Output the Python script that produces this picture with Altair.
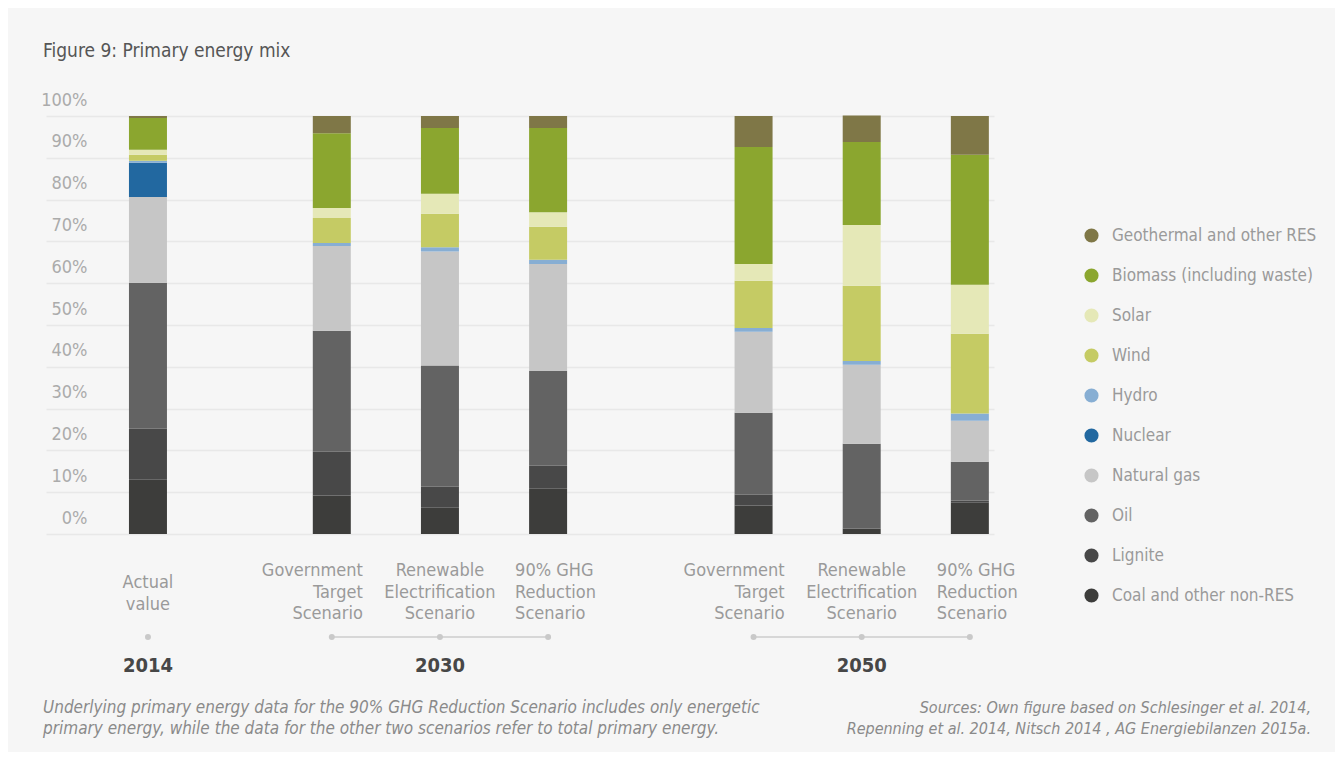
import altair as alt
import pandas as pd

# ---------------- data ----------------
bar_ids = ["2014-A", "2030-G", "2030-R", "2030-H", "2050-G", "2050-R", "2050-H"]
bar_year = ["2014", "2030", "2030", "2030", "2050", "2050", "2050"]
bar_labels = [
    "Actual\nvalue",
    "Government\nTarget\nScenario",
    "Renewable\nElectrification\nScenario",
    "90% GHG\nReduction\nScenario",
    "Government\nTarget\nScenario",
    "Renewable\nElectrification\nScenario",
    "90% GHG\nReduction\nScenario",
]
label_align = ["center", "right", "center", "left", "right", "center", "left"]
slot = [1, 2.7, 3.7, 4.7, 6.6, 7.6, 8.6]

# stack order: bottom -> top
sources = [
    "Coal and other non-RES",
    "Lignite",
    "Oil",
    "Natural gas",
    "Nuclear",
    "Hydro",
    "Wind",
    "Solar",
    "Biomass (including waste)",
    "Geothermal and other RES",
]
colors = ["#3d3d3b", "#484848", "#636363", "#c6c6c6", "#2268a0",
          "#87aed3", "#c5cb64", "#e5e8b7", "#8ba62f", "#7f7747"]

coal = [13.0, 9.2, 6.3, 10.8, 6.8, 1.3, 7.5]
lignite = [12.2, 10.5, 5.0, 5.5, 2.6, 0.0, 0.5]
oil = [34.9, 28.9, 29.0, 22.7, 19.6, 20.3, 9.3]
gas = [20.5, 20.3, 27.3, 25.6, 19.4, 18.9, 9.8]
nuclear = [8.2, 0.0, 0.0, 0.0, 0.0, 0.0, 0.0]
hydro = [0.5, 0.7, 1.0, 1.0, 0.9, 0.9, 1.7]
wind = [1.4, 6.0, 8.0, 7.9, 11.3, 18.0, 19.1]
solar = [1.2, 2.4, 4.8, 3.5, 4.0, 14.5, 11.7]
biomass = [7.6, 17.9, 15.7, 20.1, 28.0, 19.9, 31.1]
geothermal = [0.5, 4.1, 2.9, 2.9, 7.4, 6.3, 9.3]

y_ticks = [0, 10, 20, 30, 40, 50, 60, 70, 80, 90, 100]

title_text = "Figure 9: Primary energy mix"
note_left = ("Underlying primary energy data for the 90% GHG Reduction Scenario includes only energetic\n"
             "primary energy, while the data for the other two scenarios refer to total primary energy.")
note_right = ("Sources: Own figure based on Schlesinger et al. 2014,\n"
              "Repenning et al. 2014, Nitsch 2014 , AG Energiebilanzen 2015a.")

# ---------------- tables ----------------
series = [coal, lignite, oil, gas, nuclear, hydro, wind, solar, biomass, geothermal]
rows = []
for si, (src, vals) in enumerate(zip(sources, series)):
    for bi, v in enumerate(vals):
        rows.append({"bar": bar_ids[bi], "slot": slot[bi], "source": src,
                     "order": si, "value": v})
df = pd.DataFrame(rows)

bars_df = pd.DataFrame({"bar": bar_ids, "year": bar_year, "slot": slot,
                        "label": bar_labels, "align": label_align})
bars_df["nlines"] = bars_df["label"].str.count("\n") + 1
grp = bars_df.groupby("year")["slot"].agg(["min", "max", "mean"]).reset_index()
grp_lines = grp[grp["max"] > grp["min"]]

FONT = "Liberation Sans Narrow, DejaVu Sans Condensed, Roboto, sans-serif"
legend_order = sources[::-1]
color_range = colors[::-1]

W, H = 948, 418
xscale = alt.Scale(domain=[0.1034, 8.777], nice=False, zero=False)

bars = alt.Chart(df).mark_bar(size=38).encode(
    x=alt.X("slot:Q", scale=xscale, axis=None),
    y=alt.Y("value:Q", stack="zero",
            scale=alt.Scale(domain=[0, 100], nice=False),
            axis=alt.Axis(values=y_ticks, labelExpr="datum.value + '%'", title=None,
                          domain=False, ticks=False, grid=True, gridColor="#e8e8e8",
                          gridWidth=1.5, labelAlign="right", labelPadding=-41,
                          labelOffset=-16, labelBaseline="middle",
                          labelFont=FONT, labelFontSize=18, labelColor="#ababab")),
    color=alt.Color("source:N",
                    scale=alt.Scale(domain=legend_order, range=color_range),
                    legend=alt.Legend(orient="none", legendX=1037, legendY=111,
                                      title=None, symbolType="circle", symbolSize=200,
                                      symbolStrokeWidth=0, labelFont=FONT,
                                      labelFontSize=17, labelColor="#9a9a9a",
                                      labelLimit=400,
                                      rowPadding=22, labelOffset=12)),
    order=alt.Order("order:Q"),
)

dots = alt.Chart(bars_df).mark_point(filled=True, size=36, color="#c9c9c9", opacity=1).encode(
    x=alt.X("slot:Q", scale=xscale), y=alt.value(521))

lines = alt.Chart(grp_lines).mark_rule(color="#cccccc", strokeWidth=1.5).encode(
    x=alt.X("min:Q", scale=xscale), x2="max:Q", y=alt.value(521))

years = alt.Chart(grp).mark_text(font=FONT, fontSize=20, fontWeight="bold",
                                 color="#474747", baseline="middle").encode(
    x=alt.X("mean:Q", scale=xscale), y=alt.value(550), text="year:N")

# first line centre: 3-line labels at 455, 2-line labels at 467 (block centred)
label_layers = []
for al, dx in [("center", 0), ("right", 31), ("left", -33)]:
    for n, ypix in [(2, 467), (3, 455)]:
        label_layers.append(
            alt.Chart(bars_df).transform_filter(
                (alt.datum.align == al) & (alt.datum.nlines == n)).mark_text(
                font=FONT, fontSize=18, color="#9a9a9a", align=al, dx=dx,
                baseline="middle", lineBreak="\n", lineHeight=21.5).encode(
                x=alt.X("slot:Q", scale=xscale), y=alt.value(ypix), text="label:N"))

title = alt.Chart(pd.DataFrame({"t": [title_text]})).mark_text(
    font=FONT, fontSize=19, color="#555555", align="left", baseline="alphabetic").encode(
    x=alt.value(-3), y=alt.value(-59), text="t:N")

note_l = alt.Chart(pd.DataFrame({"t": [note_left]})).mark_text(
    font=FONT, fontSize=17, fontStyle="italic", color="#8a8a8a", align="left",
    baseline="middle", lineBreak="\n", lineHeight=21).encode(
    x=alt.value(-3), y=alt.value(592), text="t:N")

note_r = alt.Chart(pd.DataFrame({"t": [note_right]})).mark_text(
    font=FONT, fontSize=16, fontStyle="italic", color="#8a8a8a", align="right",
    baseline="middle", lineBreak="\n", lineHeight=21).encode(
    x=alt.value(1265), y=alt.value(592), text="t:N")

chart = alt.layer(bars, lines, dots, years, *label_layers, title, note_l, note_r).properties(
    width=W, height=H,
    background="#f6f6f6",
    padding={"left": 38, "top": 108, "right": 341, "bottom": 218},
    autosize=alt.AutoSizeParams(type="none"),
).configure_view(stroke=None)

chart.save("out.html", embed_options={"renderer": "svg", "actions": False})
